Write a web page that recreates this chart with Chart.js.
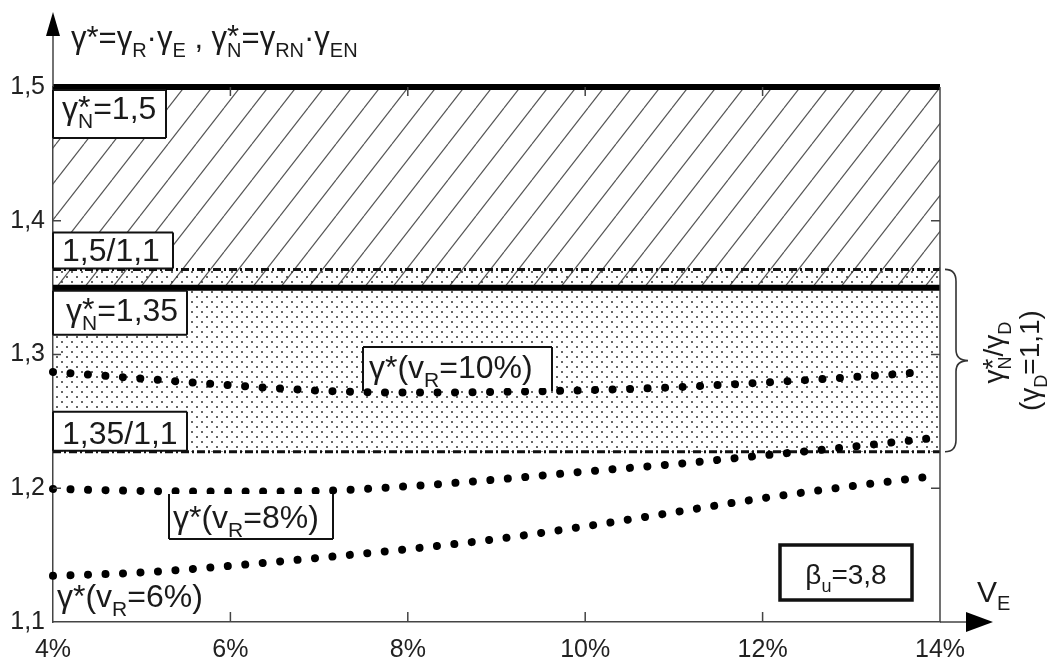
<!DOCTYPE html>
<html>
<head>
<meta charset="utf-8">
<script src="https://cdn.jsdelivr.net/npm/chart.js@4.4.1/dist/chart.umd.min.js"></script>
<style>
html, body { margin: 0; padding: 0; background: #fff; }
</style>
</head>
<body>
<canvas id="gammaChart" width="1049" height="664"></canvas>
<script>
// v_E in %
var vE = [4, 5, 6, 7, 8, 9, 10, 11, 12, 13, 13.85];
var gammaVR10 = [1.287, 1.282, 1.277, 1.273, 1.2715, 1.272, 1.2733, 1.2755, 1.279, 1.283, 1.287];
var gammaVR8 = [1.1995, 1.198, 1.1975, 1.198, 1.2015, 1.2065, 1.2125, 1.218, 1.2245, 1.231, 1.237];
var gammaVR6 = [1.1345, 1.137, 1.142, 1.148, 1.1545, 1.162, 1.1715, 1.182, 1.1925, 1.2015, 1.2085];

var xRange = [4, 14];
var xTicks = [4, 6, 8, 10, 12, 14];
var yTicks = [1.1, 1.2, 1.3, 1.4, 1.5];

var gammaN15 = 1.5;
var gammaN135 = 1.35;
var gammaD = 1.1;

var FONT = '"Liberation Sans", Arial, sans-serif';

function pts(xs, ys) {
    return xs.map(function(x, i) { return { x: x, y: ys[i] }; });
}
function flat(v) {
    return [{ x: xRange[0], y: v }, { x: xRange[1], y: v }];
}

// fill patterns
function hatchPattern() {
    var c = document.createElement('canvas');
    c.width = 28; c.height = 36;
    var g = c.getContext('2d');
    g.strokeStyle = '#555';
    g.lineWidth = 1.2;
    for (var k = -1; k <= 1; k++) {
        g.beginPath();
        g.moveTo(k * 28, 36);
        g.lineTo(k * 28 + 28, 0);
        g.stroke();
    }
    return g.createPattern(c, 'repeat');
}
function stipplePattern() {
    var c = document.createElement('canvas');
    c.width = 10; c.height = 10;
    var g = c.getContext('2d');
    g.fillStyle = '#333';
    [[2, 2], [7, 7]].forEach(function(p) {
        g.beginPath();
        g.arc(p[0], p[1], 1, 0, Math.PI * 2);
        g.fill();
    });
    return g.createPattern(c, 'repeat');
}

// text with subscripts; kind 'n' normal, 'b' subscript, 'k' star with sub below
function richText(ctx, x, y, parts, size, align) {
    var small = Math.round(size * 0.66);
    function widthOf(p) {
        if (p[1] === 'b') { ctx.font = small + 'px ' + FONT; return ctx.measureText(p[0]).width; }
        if (p[1] === 'k') {
            ctx.font = size + 'px ' + FONT; var a = ctx.measureText(p[0]).width;
            ctx.font = small + 'px ' + FONT; var b = ctx.measureText(p[2]).width;
            return Math.max(a, b);
        }
        ctx.font = size + 'px ' + FONT; return ctx.measureText(p[0]).width;
    }
    var total = 0;
    parts.forEach(function(p) { total += widthOf(p); });
    var cx = align === 'center' ? x - total / 2 : x;
    ctx.textAlign = 'left';
    ctx.textBaseline = 'alphabetic';
    parts.forEach(function(p) {
        var w = widthOf(p);
        if (p[1] === 'b') {
            ctx.font = small + 'px ' + FONT;
            ctx.fillText(p[0], cx, y + size * 0.28);
        } else if (p[1] === 'k') {
            ctx.font = size + 'px ' + FONT;
            ctx.fillText(p[0], cx, y - size * 0.02);
            ctx.font = small + 'px ' + FONT;
            ctx.fillText(p[2], cx, y + size * 0.28);
        } else {
            ctx.font = size + 'px ' + FONT;
            ctx.fillText(p[0], cx, y);
        }
        cx += w;
    });
}

function box(ctx, x0, y0, x1, y1, sides) {
    ctx.fillStyle = '#fff';
    ctx.fillRect(x0, y0, x1 - x0, y1 - y0);
    ctx.strokeStyle = '#111';
    ctx.lineWidth = 2;
    ctx.beginPath();
    if (sides.indexOf('t') >= 0) { ctx.moveTo(x0, y0); ctx.lineTo(x1, y0); }
    if (sides.indexOf('r') >= 0) { ctx.moveTo(x1, y0); ctx.lineTo(x1, y1); }
    if (sides.indexOf('b') >= 0) { ctx.moveTo(x1, y1); ctx.lineTo(x0, y1); }
    if (sides.indexOf('l') >= 0) { ctx.moveTo(x0, y1); ctx.lineTo(x0, y0); }
    ctx.stroke();
}

var decorPlugin = {
    id: 'decor',
    afterDatasetsDraw: function(chart) {
        var ctx = chart.ctx;
        var xs = chart.scales.x, ys = chart.scales.y;
        var a = chart.chartArea;
        var X = function(v) { return xs.getPixelForValue(v); };
        var Y = function(v) { return ys.getPixelForValue(v); };
        ctx.save();

        // right frame line, inner ticks
        ctx.strokeStyle = '#444';
        ctx.lineWidth = 1.5;
        ctx.beginPath();
        ctx.moveTo(a.right, Y(gammaN15));
        ctx.lineTo(a.right, a.bottom);
        xTicks.slice(1, -1).forEach(function(v) {
            ctx.moveTo(X(v), a.bottom); ctx.lineTo(X(v), a.bottom - 10);
            ctx.moveTo(X(v), a.top); ctx.lineTo(X(v), a.top + 9);
        });
        yTicks.slice(1, -1).forEach(function(v) {
            ctx.moveTo(a.left, Y(v)); ctx.lineTo(a.left + 8, Y(v));
            ctx.moveTo(a.right - 9, Y(v)); ctx.lineTo(a.right, Y(v));
        });
        // axis extensions
        ctx.moveTo(a.left, a.top); ctx.lineTo(a.left, 34);
        ctx.moveTo(a.right, a.bottom); ctx.lineTo(968, a.bottom);
        ctx.stroke();

        // arrow heads
        ctx.fillStyle = '#000';
        ctx.beginPath();
        ctx.moveTo(a.left - 7, 36); ctx.lineTo(a.left, 12); ctx.lineTo(a.left + 7, 36);
        ctx.closePath(); ctx.fill();
        ctx.beginPath();
        ctx.moveTo(966, a.bottom - 10); ctx.lineTo(993, a.bottom); ctx.lineTo(966, a.bottom + 10);
        ctx.closePath(); ctx.fill();

        // label boxes
        var yA = Y(gammaN15), yB = Y(gammaN15 / gammaD), yC = Y(gammaN135), yDd = Y(gammaN135 / gammaD);
        box(ctx, a.left, yA + 3, 166, yA + 51, 'trbl');
        box(ctx, a.left, yB - 37, 173, yB - 1, 'trbl');
        box(ctx, a.left, yC + 3, 187, yC + 47, 'trbl');
        box(ctx, a.left, yDd - 40, 187, yDd - 1, 'trbl');
        box(ctx, 363, 347, 552, 388, 'tlr');
        ctx.beginPath(); ctx.moveTo(363, 388); ctx.lineTo(363, 391); ctx.moveTo(552, 388); ctx.lineTo(552, 391); ctx.stroke();
        box(ctx, 169, 494, 333, 539, 'lbr');
        ctx.strokeStyle = '#111';
        ctx.lineWidth = 3.5;
        ctx.strokeRect(780, 545, 132, 55);

        ctx.fillStyle = '#1a1a1a';
        var S = 32;
        richText(ctx, 62, yA + 32, [['γ', 'n'], ['*', 'k', 'N'], ['=1,5', 'n']], S);
        richText(ctx, 62, yB - 8, [['1,5/1,1', 'n']], S);
        richText(ctx, 66, yC + 33, [['γ', 'n'], ['*', 'k', 'N'], ['=1,35', 'n']], S);
        richText(ctx, 62, yDd - 8, [['1,35/1,1', 'n']], S);
        richText(ctx, 369, 378, [['γ*(v', 'n'], ['R', 'b'], ['=10%)', 'n']], S);
        richText(ctx, 173, 528, [['γ*(v', 'n'], ['R', 'b'], ['=8%)', 'n']], S);
        richText(ctx, 57, 607, [['γ*(v', 'n'], ['R', 'b'], ['=6%)', 'n']], S);
        richText(ctx, 846, 584, [['β', 'n'], ['u', 'b'], ['=3,8', 'n']], 28, 'center');

        // axis titles
        richText(ctx, 71, 48, [['γ*=γ', 'n'], ['R', 'b'], ['·γ', 'n'], ['E', 'b'], [' , γ', 'n'], ['*', 'k', 'N'],
            ['=γ', 'n'], ['RN', 'b'], ['·γ', 'n'], ['EN', 'b']], 31);
        richText(ctx, 977, 602, [['V', 'n'], ['E', 'b']], 30);

        // brace for gamma_N / gamma_D band
        var bt = Y(gammaN15 / gammaD), bb = Y(gammaN135 / gammaD), bm = (bt + bb) / 2;
        var bx = a.right + 5;
        ctx.strokeStyle = '#333';
        ctx.lineWidth = 1.6;
        ctx.beginPath();
        ctx.moveTo(bx, bt);
        ctx.quadraticCurveTo(bx + 11, bt, bx + 11, bt + 12);
        ctx.lineTo(bx + 11, bm - 11);
        ctx.quadraticCurveTo(bx + 11, bm, bx + 23, bm);
        ctx.quadraticCurveTo(bx + 11, bm, bx + 11, bm + 11);
        ctx.lineTo(bx + 11, bb - 12);
        ctx.quadraticCurveTo(bx + 11, bb, bx, bb);
        ctx.stroke();

        ctx.fillStyle = '#1a1a1a';
        ctx.save();
        ctx.rotate(-Math.PI / 2);
        richText(ctx, -bm + 8, 1003, [['γ', 'n'], ['*', 'k', 'N'], ['/γ', 'n'], ['D', 'b']], 28, 'center');
        richText(ctx, -bm, 1039, [['(γ', 'n'], ['D', 'b'], ['=1,1)', 'n']], 28, 'center');
        ctx.restore();

        ctx.restore();
    }
};

var ctx = document.getElementById('gammaChart').getContext('2d');
var chart = new Chart(ctx, {
    type: 'line',
    data: {
        datasets: [
            {
                data: flat(gammaN15), fill: { value: gammaN135 }, backgroundColor: hatchPattern(),
                borderColor: '#000', borderWidth: 6, order: 10
            },
            {
                data: flat(gammaN15 / gammaD), fill: { value: gammaN135 / gammaD }, backgroundColor: stipplePattern(),
                borderColor: '#111', borderWidth: 3, borderDash: [8, 3, 2, 3], order: 9
            },
            {
                data: flat(gammaN135 / gammaD), fill: false,
                borderColor: '#111', borderWidth: 3, borderDash: [8, 3, 2, 3], order: 8
            },
            {
                data: flat(gammaN135), fill: false,
                borderColor: '#000', borderWidth: 6, order: 7
            },
            {
                data: pts(vE, gammaVR10), fill: false, cubicInterpolationMode: 'monotone',
                borderColor: '#000', borderWidth: 8, borderDash: [0.01, 17.5], borderCapStyle: 'round', order: 3
            },
            {
                data: pts(vE, gammaVR8), fill: false, cubicInterpolationMode: 'monotone',
                borderColor: '#000', borderWidth: 8, borderDash: [0.01, 17.5], borderCapStyle: 'round', order: 2
            },
            {
                data: pts(vE, gammaVR6), fill: false, cubicInterpolationMode: 'monotone',
                borderColor: '#000', borderWidth: 8, borderDash: [0.01, 17.5], borderCapStyle: 'round', order: 1
            }
        ]
    },
    options: {
        responsive: false,
        animation: false,
        clip: false,
        elements: { point: { radius: 0 } },
        layout: { padding: { top: 87, right: 109, left: 0, bottom: 0 } },
        plugins: { legend: { display: false }, tooltip: { enabled: false } },
        scales: {
            x: {
                type: 'linear',
                min: xRange[0],
                max: xRange[1],
                afterBuildTicks: function(s) { s.ticks = xTicks.map(function(v) { return { value: v }; }); },
                afterFit: function(s) { s.height = 42; },
                ticks: {
                    callback: function(v) { return v + '%'; },
                    font: { family: FONT, size: 25 },
                    color: '#222',
                    padding: 13,
                    maxRotation: 0
                },
                grid: { display: false, drawTicks: false },
                border: { display: true, color: '#444', width: 1.5 }
            },
            y: {
                min: 1.1,
                max: 1.5,
                afterBuildTicks: function(s) { s.ticks = yTicks.map(function(v) { return { value: v }; }); },
                afterFit: function(s) { s.width = 53; },
                ticks: {
                    callback: function(v) { return v.toFixed(1).replace('.', ','); },
                    font: { family: FONT, size: 25 },
                    color: '#222',
                    padding: 8
                },
                grid: { display: false, drawTicks: false },
                border: { display: true, color: '#444', width: 1.5 }
            }
        }
    },
    plugins: [decorPlugin]
});
</script>
</body>
</html>
